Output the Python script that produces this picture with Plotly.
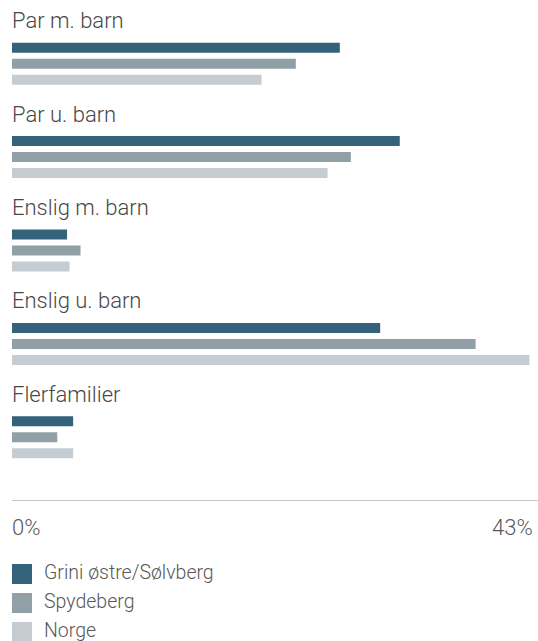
import plotly.graph_objects as go

# ---- data ----
categories = ["Par m. barn", "Par u. barn", "Enslig m. barn", "Enslig u. barn", "Flerfamilier"]
series_names = ["Grini østre/Sølvberg", "Spydeberg", "Norge"]
grini = [26.8, 31.7, 4.5, 30.1, 5.0]
spydeberg = [23.2, 27.7, 5.6, 37.9, 3.7]
norge = [20.4, 25.8, 4.7, 42.3, 5.0]
x_max = 43
tick_values = [0, 43]
tick_labels = ["0%", "43%"]

# ---- style ----
colors = ["#33627a", "#919fa6", "#c5cdd3"]
W, H = 538, 641
ml, mr, mt, mb = 12, 0, 17, 141
plot_w = W - ml - mr
plot_h = H - mt - mb
slot_px = 93.4
FONT = "Roboto"
WEIGHT = 300
TEXT_DARK = "#484848"
TEXT_MID = "#585858"

fig = go.Figure()
for name, vals, c in zip(series_names, [grini, spydeberg, norge], colors):
    fig.add_trace(go.Bar(
        y=categories, x=vals, orientation="h", name=name,
        marker=dict(color=c, line=dict(width=0)),
        hovertemplate="%{y}<br>" + name + ": %{x}%<extra></extra>",
    ))

annotations = []
for cat in categories:
    annotations.append(dict(
        x=0, xref="x", y=cat, yref="y", text=cat, showarrow=False,
        xanchor="left", yanchor="middle", xshift=-2, yshift=43,
        font=dict(family=FONT, size=22, color=TEXT_DARK, weight=WEIGHT),
    ))

# axis end labels
for v, t in zip(tick_values, tick_labels):
    annotations.append(dict(
        x=v, xref="x", y=0, yref="paper", text=t, showarrow=False,
        xanchor="left" if v == 0 else "right", yanchor="middle",
        xshift=-2 if v == 0 else -3, yshift=-27,
        font=dict(family=FONT, size=22, color=TEXT_MID, weight=WEIGHT),
    ))

# manual legend
shapes = []
bottom_px = H - mb
for i, (name, c) in enumerate(zip(series_names, colors)):
    top = 564 + 29 * i
    y0 = (bottom_px - (top + 20)) / plot_h
    y1 = (bottom_px - top) / plot_h
    shapes.append(dict(
        type="rect", xref="paper", yref="paper",
        x0=0, x1=20 / plot_w, y0=y0, y1=y1,
        fillcolor=c, line=dict(width=0),
    ))
    annotations.append(dict(
        x=(44 - ml) / plot_w, xref="paper", y=(y0 + y1) / 2, yref="paper",
        text=name, showarrow=False, xanchor="left", yanchor="middle",
        xshift=-2, yshift=1.5,
        font=dict(family=FONT, size=19.5, color=TEXT_MID, weight=WEIGHT),
    ))

fig.update_layout(
    width=W, height=H,
    margin=dict(l=ml, r=mr, t=mt, b=mb, pad=0),
    paper_bgcolor="white", plot_bgcolor="white",
    barmode="group", bargap=0.486, bargroupgap=0.375,
    showlegend=False,
    font=dict(family=FONT, color=TEXT_DARK),
    xaxis=dict(range=[0, x_max], showline=True, linecolor="#c8c8c8", linewidth=1,
               showgrid=False, zeroline=False, showticklabels=False, ticks="",
               fixedrange=True),
    yaxis=dict(type="category", categoryorder="array", categoryarray=categories,
               range=[-0.5 + plot_h / slot_px, -0.5],
               showgrid=False, zeroline=False, showticklabels=False, ticks="",
               showline=False, fixedrange=True),
    annotations=annotations,
    shapes=shapes,
)

fig.write_html("out.html", config={"displayModeBar": False})
